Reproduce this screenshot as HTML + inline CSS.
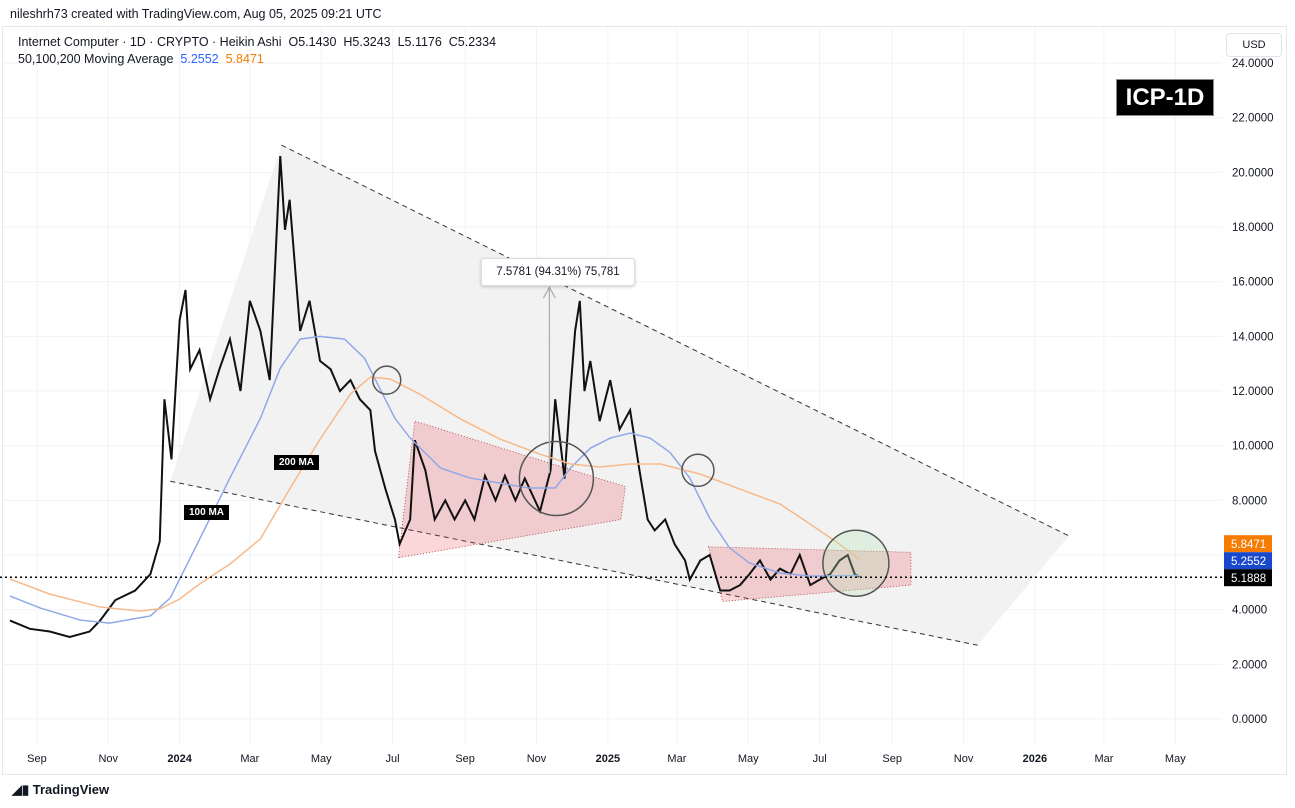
<!DOCTYPE html>
<html><head><meta charset="utf-8"><style>
body{margin:0;width:1295px;height:808px;background:#fff;font-family:"Liberation Sans",sans-serif;overflow:hidden;position:relative}
.t{position:absolute;white-space:nowrap}
</style></head><body>
<div class="t" style="left:10px;top:7px;font-size:12.5px;color:#131722">nileshrh73 created with TradingView.com, Aug 05, 2025 09:21 UTC</div>
<div style="position:absolute;left:2px;top:26px;width:1283px;height:747px;border:1px solid #e8e8ec"></div>
<svg id="c" width="1295" height="808" style="position:absolute;left:0;top:0"></svg>
<div class="t" style="left:18px;top:35px;font-size:12.5px;color:#131722">Internet Computer · 1D · CRYPTO · Heikin Ashi &nbsp;O5.1430 &nbsp;H5.3243 &nbsp;L5.1176 &nbsp;C5.2334</div>
<div class="t" style="left:18px;top:52px;font-size:12.5px;color:#131722">50,100,200 Moving Average &nbsp;<span style="color:#2962ff">5.2552</span> &nbsp;<span style="color:#f57c00">5.8471</span></div>
<div class="t" style="left:1226px;top:33px;width:54px;height:22px;border:1px solid #e0e3eb;border-radius:4px;font-size:11px;line-height:22px;text-align:center;color:#131722">USD</div>
<div class="t" style="left:1116px;top:79px;width:96px;height:35px;background:#000;border:1px solid #888;color:#fff;font-weight:bold;font-size:24px;line-height:35px;text-align:center">ICP-1D</div>
<div class="t" style="left:274px;top:455px;background:#000;color:#fff;font-size:10px;font-weight:bold;padding:2px 5px">200 MA</div>
<div class="t" style="left:184px;top:505px;background:#000;color:#fff;font-size:10px;font-weight:bold;padding:2px 5px">100 MA</div>
<div class="t" style="left:481px;top:258px;width:152px;height:26px;background:#fff;border:1px solid #ddd;border-radius:3px;font-size:11.5px;line-height:26px;text-align:center;color:#131722;box-shadow:0 1px 3px rgba(0,0,0,.2)">7.5781 (94.31%) 75,781</div>
<div class="t" style="left:12px;top:782px;font-size:13px;font-weight:bold;color:#131722">◢▮ TradingView</div>
<script>
const priceTicks=[0,2,4,8,10,12,14,16,18,20,22,24];
const monthLabels=["Sep","Nov","2024","Mar","May","Jul","Sep","Nov","2025","Mar","May","Jul","Sep","Nov","2026","Mar","May"];
const monthDays=[23,84,145,205,266,327,389,450,511,570,631,692,754,815,876,935,996];
const priceDays=[0,17,34,51,68,77,90,107,120,128,132,138,145,150,154,162,171,179,188,197,205,214,222,231,235,239,248,256,265,274,282,291,299,308,312,321,329,333,342,346,355,363,372,380,389,397,406,415,423,432,440,453,462,466,474,479,483,487,491,496,504,513,521,530,538,545,551,560,568,577,581,590,598,607,615,624,632,641,650,658,667,675,684,692,701,709,716,722,726];
const priceVals=[3.6,3.3,3.2,3.0,3.2,3.6,4.35,4.7,5.3,6.5,11.7,9.5,14.6,15.7,12.8,13.5,11.7,12.8,13.9,12.0,15.3,14.2,12.4,20.6,17.9,19.0,14.2,15.3,13.1,12.8,12.0,12.4,11.7,11.3,9.8,8.4,7.3,6.4,7.3,10.2,9.1,7.3,8.0,7.3,8.0,7.3,8.9,8.0,8.9,8.0,8.8,7.6,9.1,11.7,8.8,12.0,14.2,15.3,12.0,13.1,10.9,12.4,10.6,11.3,9.1,7.3,6.9,7.3,6.4,5.8,5.1,5.8,6.0,4.7,4.7,4.9,5.3,5.8,5.1,5.5,5.3,6.0,4.9,5.1,5.3,5.8,6.0,5.3,5.2];
const ma100Days=[0,26,60,85,120,137,154,171,188,214,231,248,265,286,303,316,329,342,368,393,419,444,466,479,496,513,530,547,564,581,598,615,632,658,684,726];
const ma100Vals=[4.5,4.06,3.62,3.51,3.77,4.43,5.89,7.35,8.82,11.0,12.84,13.9,14.0,13.9,13.2,12.1,11.0,10.28,9.18,8.82,8.63,8.45,8.45,9.18,9.91,10.28,10.46,10.28,9.76,8.82,7.35,6.26,5.71,5.34,5.23,5.25];
const ma200Days=[0,34,77,111,128,145,162,188,214,239,265,291,308,325,350,385,419,453,479,504,530,556,590,624,658,684,709,726];
const ma200Vals=[5.12,4.57,4.1,3.95,4.03,4.39,4.94,5.67,6.59,8.41,10.24,11.89,12.51,12.44,11.89,10.98,10.24,9.69,9.33,9.22,9.33,9.33,8.96,8.41,7.87,7.13,6.4,5.85];
const lastPrice=5.1888, ma100Last=5.2552, ma200Last=5.8471;

const X=d=>10+d*1.17, Y=p=>719-p*27.33;
const svg=document.getElementById('c'),NS='http://www.w3.org/2000/svg';
function mk(t,a,parent){const e=document.createElementNS(NS,t);for(const k in a)e.setAttribute(k,a[k]);(parent||svg).appendChild(e);return e;}
priceTicks.concat([6]).forEach(p=>{const l=mk('line',{x1:3,x2:1222,y1:Y(p),y2:Y(p),stroke:'#f0f3fa'});

});
monthDays.forEach(d=>{const l=mk('line',{x1:X(d),x2:X(d),y1:28,y2:745,stroke:'#f0f3fa'});

});
const wedge=mk('polygon',{points:`${X(137)},${Y(8.7)} ${X(232)},${Y(21)} ${X(905)},${Y(6.7)} ${X(827)},${Y(2.7)}`,fill:'#f0f0f0',opacity:0.85});


[[137,8.7,827,2.7],[232,21,905,6.7]].forEach(s=>{const l=mk('line',{x1:X(s[0]),y1:Y(s[1]),x2:X(s[2]),y2:Y(s[3]),stroke:'#333','stroke-dasharray':'5,4','stroke-width':1});

});
[[[332,5.9],[346,10.9],[526,8.5],[522,7.3]],[[597,6.3],[770,6.1],[770,4.9],[609,4.3]]].forEach(tr=>{const p=mk('polygon',{points:tr.map(q=>X(q[0])+','+Y(q[1])).join(' '),fill:'rgba(242,54,69,0.2)',stroke:'#a33','stroke-dasharray':'1,2','stroke-width':0.8});

});
const pl=mk('polyline',{points:priceDays.map((d,i)=>X(d)+','+Y(priceVals[i])).join(' '),fill:'none',stroke:'#111','stroke-width':2});


const m1=mk('polyline',{points:ma100Days.map((d,i)=>X(d)+','+Y(ma100Vals[i])).join(' '),fill:'none',stroke:'#8fa8e8','stroke-width':1.5});


const m2=mk('polyline',{points:ma200Days.map((d,i)=>X(d)+','+Y(ma200Vals[i])).join(' '),fill:'none',stroke:'#f7b98a','stroke-width':1.5});


[[322,12.4,14,'none'],[467,8.8,37,'none'],[588,9.1,16,'none'],[723,5.7,33,'rgba(180,230,180,0.3)']].forEach(c=>{const e=mk('circle',{cx:X(c[0]),cy:Y(c[1]),r:c[2],fill:c[3],stroke:'#555','stroke-width':1.5});

});
const ar=mk('path',{d:`M${X(461)},${Y(9)} L${X(461)},${Y(15.8)} M${X(461)-6},${Y(15.4)} L${X(461)},${Y(15.8)} L${X(461)+6},${Y(15.4)}`,stroke:'#aaa',fill:'none','stroke-width':1.2});


const lp=mk('line',{x1:0,x2:1222,y1:Y(lastPrice),y2:Y(lastPrice),stroke:'#000','stroke-dasharray':'2,3','stroke-width':1.5});


priceTicks.forEach(p=>{const t=mk('text',{x:1232,y:Y(p)+4,'font-size':11.5,fill:'#131722'});t.textContent=p.toFixed(4);

});
monthLabels.forEach((m,i)=>{const t=mk('text',{x:X(monthDays[i]),y:762,'font-size':11,fill:'#131722','text-anchor':'middle','font-weight':/^\d/.test(m)?'bold':'normal'});t.textContent=m;

});
[[ma200Last,'#f57c00',-2],[ma100Last,'#1848cc',-1],[lastPrice,'#000',0]].forEach(b=>{const y=Y(lastPrice)-8+b[2]*17;
const r=mk('rect',{x:1224,y:y,width:48,height:17,fill:b[1]});


const t=mk('text',{x:1231,y:y+13,'font-size':11.5,fill:'#fff'});t.textContent=b[0].toFixed(4);

});
</script>
</body></html>
